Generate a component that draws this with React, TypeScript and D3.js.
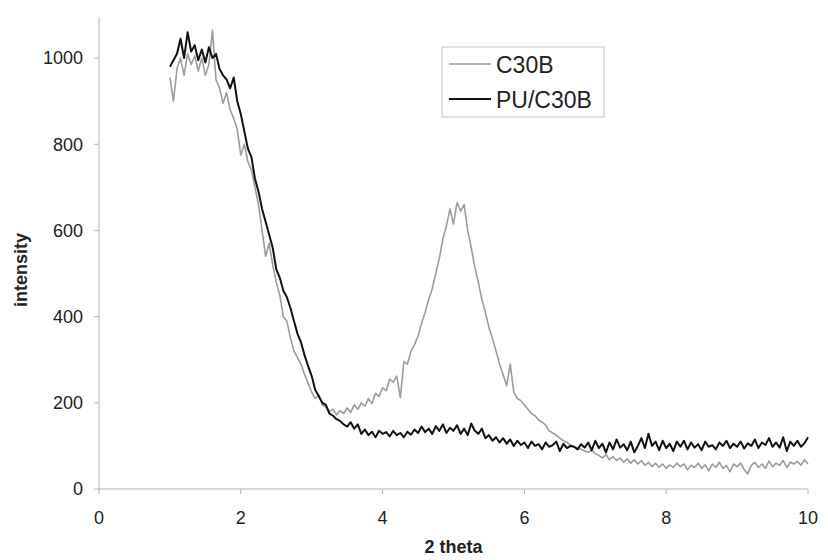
import React from "react";
import * as d3 from "d3";

// 2-theta sampling grid: 1.00 to 10.00, step 0.05 (181 points)
const thetaStart = 1.0;
const thetaStep = 0.05;

const c30b: number[] = [
  955, 900, 975, 1000, 960, 1010, 985, 1005, 970, 1000,
  960, 985, 1065, 950, 930, 895, 920, 880, 860, 835,
  775, 800, 760, 740, 700, 660, 600, 540, 570, 520,
  480, 450, 400, 390, 350, 320, 305, 290, 265, 245,
  225, 210, 218, 195, 190, 180, 185, 172, 182, 175,
  188, 178, 195, 185, 200, 192, 210, 198, 222, 215,
  235, 228, 255, 248, 262, 212, 295, 290, 320, 335,
  355, 385, 410, 440, 465, 500, 535, 580, 610, 650,
  615, 665, 645, 660, 600, 560, 515, 480, 440, 410,
  375, 350, 320, 290, 265, 240, 290, 225, 210, 205,
  195, 185, 175, 170, 160, 155, 148, 135, 130, 125,
  118, 112, 108, 102, 98, 95, 92, 88, 85, 90,
  82, 78, 72, 80, 68, 75, 66, 72, 62, 70,
  60, 68, 58, 66, 55, 62, 52, 60, 50, 58,
  48, 56, 50, 60, 52, 58, 45, 55, 50, 60,
  48, 56, 42, 58, 50, 62, 48, 55, 40, 58,
  52, 60, 45, 35, 55, 62, 50, 58, 48, 65,
  52, 60, 55, 66, 50, 62, 58, 64, 55, 68,
  58,
];

const puC30b: number[] = [
  980, 995, 1010, 1045, 1000, 1060, 1015, 1030, 995, 1020,
  990, 1025, 1000, 1010, 975, 960, 950, 930, 955, 900,
  870, 830, 790, 770, 720, 690, 650, 620, 590, 560,
  510, 490, 460, 445, 420, 390, 360, 340, 310, 285,
  262, 230, 215, 200, 195, 175, 170, 162, 158, 150,
  145, 155, 140, 150, 128, 138, 125, 133, 120, 135,
  128, 132, 122, 135, 125, 130, 120, 133, 126, 138,
  130, 145, 132, 140, 128, 146, 135, 150, 130, 142,
  135, 148, 128, 140, 125, 152, 135, 128, 140, 118,
  125, 112, 120, 108, 118, 105, 115, 100, 112, 102,
  108, 95, 110, 100, 104, 92, 108, 98, 102, 110,
  88, 105, 95, 100, 98, 92, 104, 96, 108, 90,
  112, 95, 105, 85, 108, 92, 115, 96, 104, 90,
  110, 85, 100, 118, 95, 128, 100, 110, 90, 112,
  95, 105, 88, 110, 98, 112, 92, 108, 96, 104,
  90, 110, 98, 102, 92, 108, 100, 112, 95, 105,
  98, 110, 94, 106, 100, 115, 95, 108, 102, 118,
  98, 108, 96, 120, 88, 110, 100, 112, 98, 106,
  120,
];

const xTicks = [0, 2, 4, 6, 8, 10];
const yTicks = [0, 200, 400, 600, 800, 1000];
const seriesNames = ["C30B", "PU/C30B"];
const seriesColors = ["#9c9c9c", "#111111"];

const W = 828;
const H = 560;
const left = 99;
const right = 808;
const bottom = 489;
const top = 15;

export default function App() {
  const x = d3.scaleLinear().domain([0, 10]).range([left, right]);
  const y = d3.scaleLinear().domain([0, 1100]).range([bottom, top]);

  const toPts = (vals: number[]) =>
    vals.map((v, i) => [thetaStart + i * thetaStep, v] as [number, number]);

  const line = d3
    .line<[number, number]>()
    .x((d) => x(d[0]))
    .y((d) => y(d[1]));

  const axisColor = "#b5b5b5";
  const font = "'Liberation Sans', Arial, sans-serif";

  return (
    <svg
      width={W}
      height={H}
      style={{ position: "absolute", left: 0, top: 0, background: "#fff" }}
    >
      <rect width={W} height={H} fill="#fff" />
      {/* axes */}
      <line x1={left} x2={left} y1={y(1095)} y2={bottom} stroke={axisColor} strokeWidth={1} />
      <line x1={left} x2={right} y1={bottom} y2={bottom} stroke={axisColor} strokeWidth={1} />
      {yTicks.map((t) => (
        <g key={"y" + t}>
          <line x1={left - 5} x2={left} y1={y(t)} y2={y(t)} stroke={axisColor} />
          <text
            x={83}
            y={y(t)}
            dy="0.35em"
            textAnchor="end"
            fontFamily={font}
            fontSize={18}
            fill="#222"
          >
            {t}
          </text>
        </g>
      ))}
      {xTicks.map((t) => (
        <g key={"x" + t}>
          <line x1={x(t)} x2={x(t)} y1={bottom} y2={bottom + 5} stroke={axisColor} />
          <text
            x={x(t)}
            y={524}
            textAnchor="middle"
            fontFamily={font}
            fontSize={18}
            fill="#222"
          >
            {t}
          </text>
        </g>
      ))}
      <text
        x={x(5)}
        y={553}
        textAnchor="middle"
        fontFamily={font}
        fontSize={18}
        fontWeight="bold"
        fill="#222"
      >
        2 theta
      </text>
      <text
        transform={`translate(27,${270}) rotate(-90)`}
        textAnchor="middle"
        fontFamily={font}
        fontSize={18}
        fontWeight="bold"
        fill="#222"
      >
        intensity
      </text>

      {/* series */}
      <path d={line(toPts(c30b)) || ""} fill="none" stroke={seriesColors[0]} strokeWidth={1.6} strokeLinejoin="round" />
      <path d={line(toPts(puC30b)) || ""} fill="none" stroke={seriesColors[1]} strokeWidth={2} strokeLinejoin="round" />

      {/* legend */}
      <rect x={442} y={47} width={162} height={70} fill="#fff" stroke="#c4c4c4" strokeWidth={1} />
      {seriesNames.map((n, i) => (
        <g key={n}>
          <line x1={449} x2={491} y1={64 + i * 35} y2={64 + i * 35} stroke={seriesColors[i]} strokeWidth={i === 0 ? 1.6 : 2} />
          <text x={496} y={73 + i * 35} fontFamily={font} fontSize={23} fill="#222">
            {n}
          </text>
        </g>
      ))}
    </svg>
  );
}
